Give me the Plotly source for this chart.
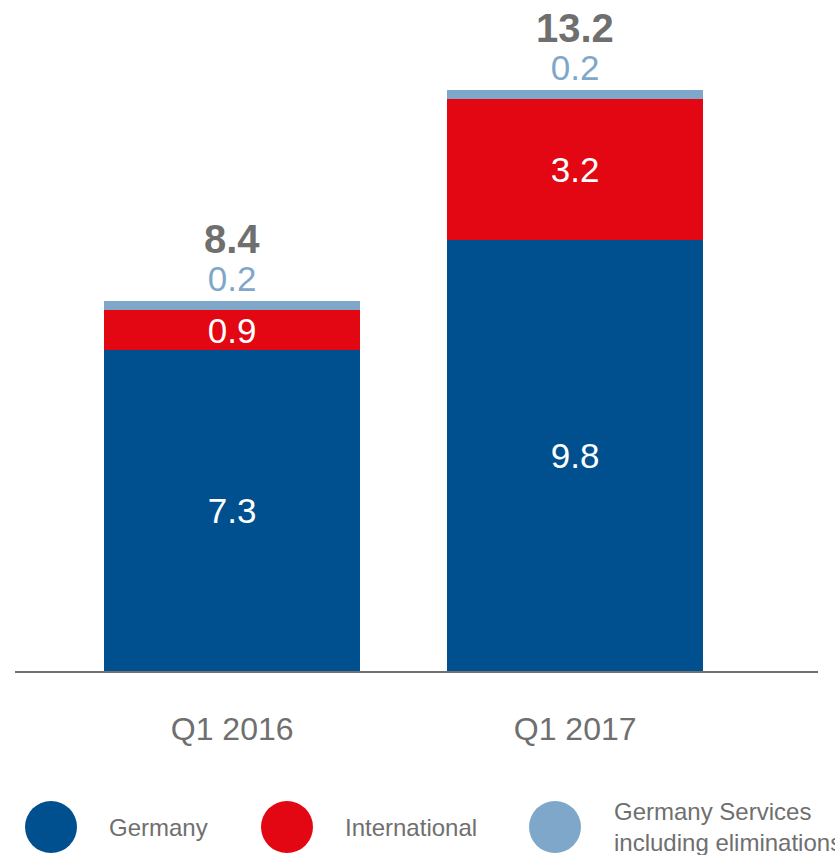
import plotly.graph_objects as go

# Revenue by segment (bn), stacked per quarter
quarters = ["Q1 2016", "Q1 2017"]
germany = [7.3, 9.8]
international = [0.9, 3.2]
services = [0.2, 0.2]
totals = [8.4, 13.2]

segment_names = ["Germany", "International", "Germany Services<br>including eliminations"]
colors = ["#00508F", "#E30613", "#7FA7C9"]

FONT = "Liberation Sans, Arial, sans-serif"
GREY = "#6F6F6F"

W, H = 835, 855
ML, MR, MT, MB = 15, 17, 0, 184
plot_w = W - ML - MR
plot_h = H - MT - MB

fig = go.Figure()

fig.add_trace(go.Bar(
    x=quarters, y=germany, name=segment_names[0],
    marker=dict(color=colors[0], line=dict(width=0)),
    text=[f"{v:.1f}" for v in germany], textposition="inside",
    insidetextanchor="middle", textangle=0, constraintext="none",
    insidetextfont=dict(family=FONT, size=35, color="white"),
))
fig.add_trace(go.Bar(
    x=quarters, y=international, name=segment_names[1],
    marker=dict(color=colors[1], line=dict(width=0)),
    text=[f"{v:.1f}" for v in international], textposition="inside",
    insidetextanchor="middle", textangle=0, constraintext="none",
    insidetextfont=dict(family=FONT, size=35, color="white"),
))
fig.add_trace(go.Bar(
    x=quarters, y=services, name=segment_names[2],
    marker=dict(color=colors[2], line=dict(width=0)),
    text=[f"{v:.1f}" for v in services], textposition="outside",
    textangle=0, constraintext="none", cliponaxis=False,
    outsidetextfont=dict(family=FONT, size=35, color=colors[2]),
))

# Totals above each stack
for q, t in zip(quarters, totals):
    fig.add_annotation(
        x=q, y=t, xref="x", yref="y", text=f"<b>{t:.1f}</b>",
        showarrow=False, yanchor="middle", yshift=62,
        font=dict(family=FONT, size=40, color=GREY),
    )

# Legend: large coloured dots with labels underneath the chart
def px_to_paper(px, py):
    return (px - ML) / plot_w, (H - MB - py) / plot_h

legend_items = [
    (51, 827, 107, colors[0], segment_names[0]),
    (287, 827, 343, colors[1], segment_names[1]),
    (555, 827, 612, colors[2], segment_names[2]),
]
for cx, cy, tx, col, label in legend_items:
    xp, yp = px_to_paper(cx, cy)
    fig.add_shape(
        type="circle", xref="paper", yref="paper",
        xsizemode="pixel", ysizemode="pixel",
        xanchor=xp, yanchor=yp, x0=-26, x1=26, y0=-26, y1=26,
        fillcolor=col, line=dict(width=0), layer="above",
    )
    txp, typ = px_to_paper(tx, cy)
    fig.add_annotation(
        x=txp, y=typ, xref="paper", yref="paper", text=label,
        showarrow=False, xanchor="left", yanchor="middle", align="left",
        font=dict(family=FONT, size=24, color=GREY),
    )

fig.update_layout(
    width=W, height=H,
    margin=dict(l=ML, r=MR, t=MT, b=MB, pad=0),
    barmode="stack", bargap=0.254,
    showlegend=False,
    plot_bgcolor="white", paper_bgcolor="white",
    font=dict(family=FONT, color=GREY),
    xaxis=dict(
        type="category", range=[-0.633, 1.708],
        showline=True, linecolor="#707070", linewidth=2,
        ticks="", showgrid=False, zeroline=False,
        tickfont=dict(family=FONT, size=32, color=GREY),
        ticklabelstandoff=29,
    ),
    yaxis=dict(
        range=[0, 15.25], visible=False, showgrid=False, zeroline=False,
    ),
)

fig.write_html("out.html")
